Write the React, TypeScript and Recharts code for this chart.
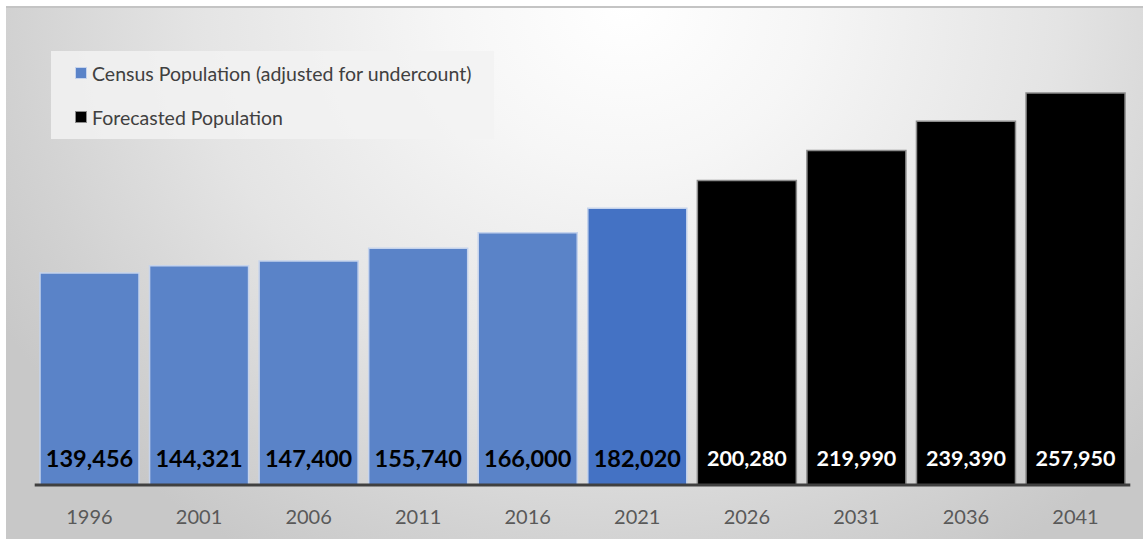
import React from 'react';
import { BarChart, Bar, XAxis, YAxis, Cell, LabelList } from 'recharts';

const years = ['1996', '2001', '2006', '2011', '2016', '2021', '2026', '2031', '2036', '2041'];
const censusValues = [139456, 144321, 147400, 155740, 166000, 182020];
const forecastValues = [200280, 219990, 239390, 257950];
const seriesNames = ['Census Population (adjusted for undercount)', 'Forecasted Population'];

const allValues = [...censusValues, ...forecastValues];
const data = years.map((year, i) => ({
  year,
  value: allValues[i],
  forecast: i >= censusValues.length,
}));

const FONT = 'Lato, "Open Sans", sans-serif';
const CENSUS_FILL = '#5a83c8';
const CENSUS_LAST_FILL = '#4472c4';
const FORECAST_FILL = '#000000';

const fmt = (v: number) => v.toLocaleString('en-US');

const BarLabel = (props: any) => {
  const { x, y, width, height, value, index } = props;
  if (value == null) return null;
  const isForecast = index >= censusValues.length;
  return (
    <text
      x={Number(x) + Number(width) / 2}
      y={Number(y) + Number(height) - 27}
      textAnchor="middle"
      dominantBaseline="central"
      fontFamily={FONT}
      fontWeight={700}
      fontSize={isForecast ? 21.5 : 23.5}
      fill={isForecast ? '#ffffff' : '#000000'}
    >
      {fmt(value)}
    </text>
  );
};

const Tick = (props: any) => {
  const { x, payload } = props;
  return (
    <text
      x={x}
      y={510}
      textAnchor="middle"
      dominantBaseline="central"
      fontFamily={FONT}
      fontSize={20}
      fill="#595959"
    >
      {payload.value}
    </text>
  );
};

const LegendBox = () => (
  <div
    style={{
      position: 'absolute',
      left: 45,
      top: 45,
      width: 443,
      height: 88,
      background: 'rgba(242,242,242,0.85)',
      fontFamily: FONT,
      fontSize: 19.5,
      color: '#404040',
    }}
  >
    {seriesNames.map((name, i) => (
      <div
        key={name}
        style={{
          position: 'absolute',
          left: 24,
          top: 22 + i * 44 - 12,
          height: 24,
          display: 'flex',
          alignItems: 'center',
          whiteSpace: 'nowrap',
        }}
      >
        <span
          style={{
            display: 'inline-block',
            width: 10,
            height: 10,
            background: i === 0 ? CENSUS_FILL : FORECAST_FILL,
            border: i === 0 ? '1px solid #c5d3ec' : '1px solid #8c8c8c',
            marginRight: 5,
          }}
        />
        <span>{name}</span>
      </div>
    ))}
  </div>
);

export default function App() {
  return (
    <div style={{ position: 'absolute', left: 0, top: 0, width: 1143, height: 539, background: '#ffffff', overflow: 'hidden' }}>
      <div
        style={{
          position: 'absolute',
          left: 6,
          top: 6,
          width: 1137,
          height: 533,
          background:
            'radial-gradient(ellipse 720px 640px at 620px 0px, #ffffff 0%, #f6f6f6 25%, #e4e4e4 60%, #d2d2d2 85%, #c8c8c8 100%)',
        }}
      >
        <div style={{ position: 'absolute', left: 0, top: 0, width: 1137, height: 2, background: '#c4c4c4' }} />
        <BarChart
          width={1137}
          height={533}
          data={data}
          margin={{ top: 23, right: 12.7, left: 28.7, bottom: 0 }}
          barCategoryGap={5.3}
        >
          <XAxis
            dataKey="year"
            height={54}
            axisLine={{ stroke: '#404040', strokeWidth: 3 }}
            tickLine={false}
            tick={<Tick />}
            interval={0}
          />
          <YAxis hide domain={[0, 300000]} />
          <Bar dataKey="value" name={seriesNames[0]} isAnimationActive={false} strokeWidth={1.5}>
            {data.map((d, i) => (
              <Cell
                key={d.year}
                fill={d.forecast ? FORECAST_FILL : i === censusValues.length - 1 ? CENSUS_LAST_FILL : CENSUS_FILL}
                stroke={d.forecast ? '#8c8c8c' : '#c5d3ec'}
              />
            ))}
            <LabelList dataKey="value" content={<BarLabel />} />
          </Bar>
        </BarChart>
        <LegendBox />
      </div>
    </div>
  );
}
